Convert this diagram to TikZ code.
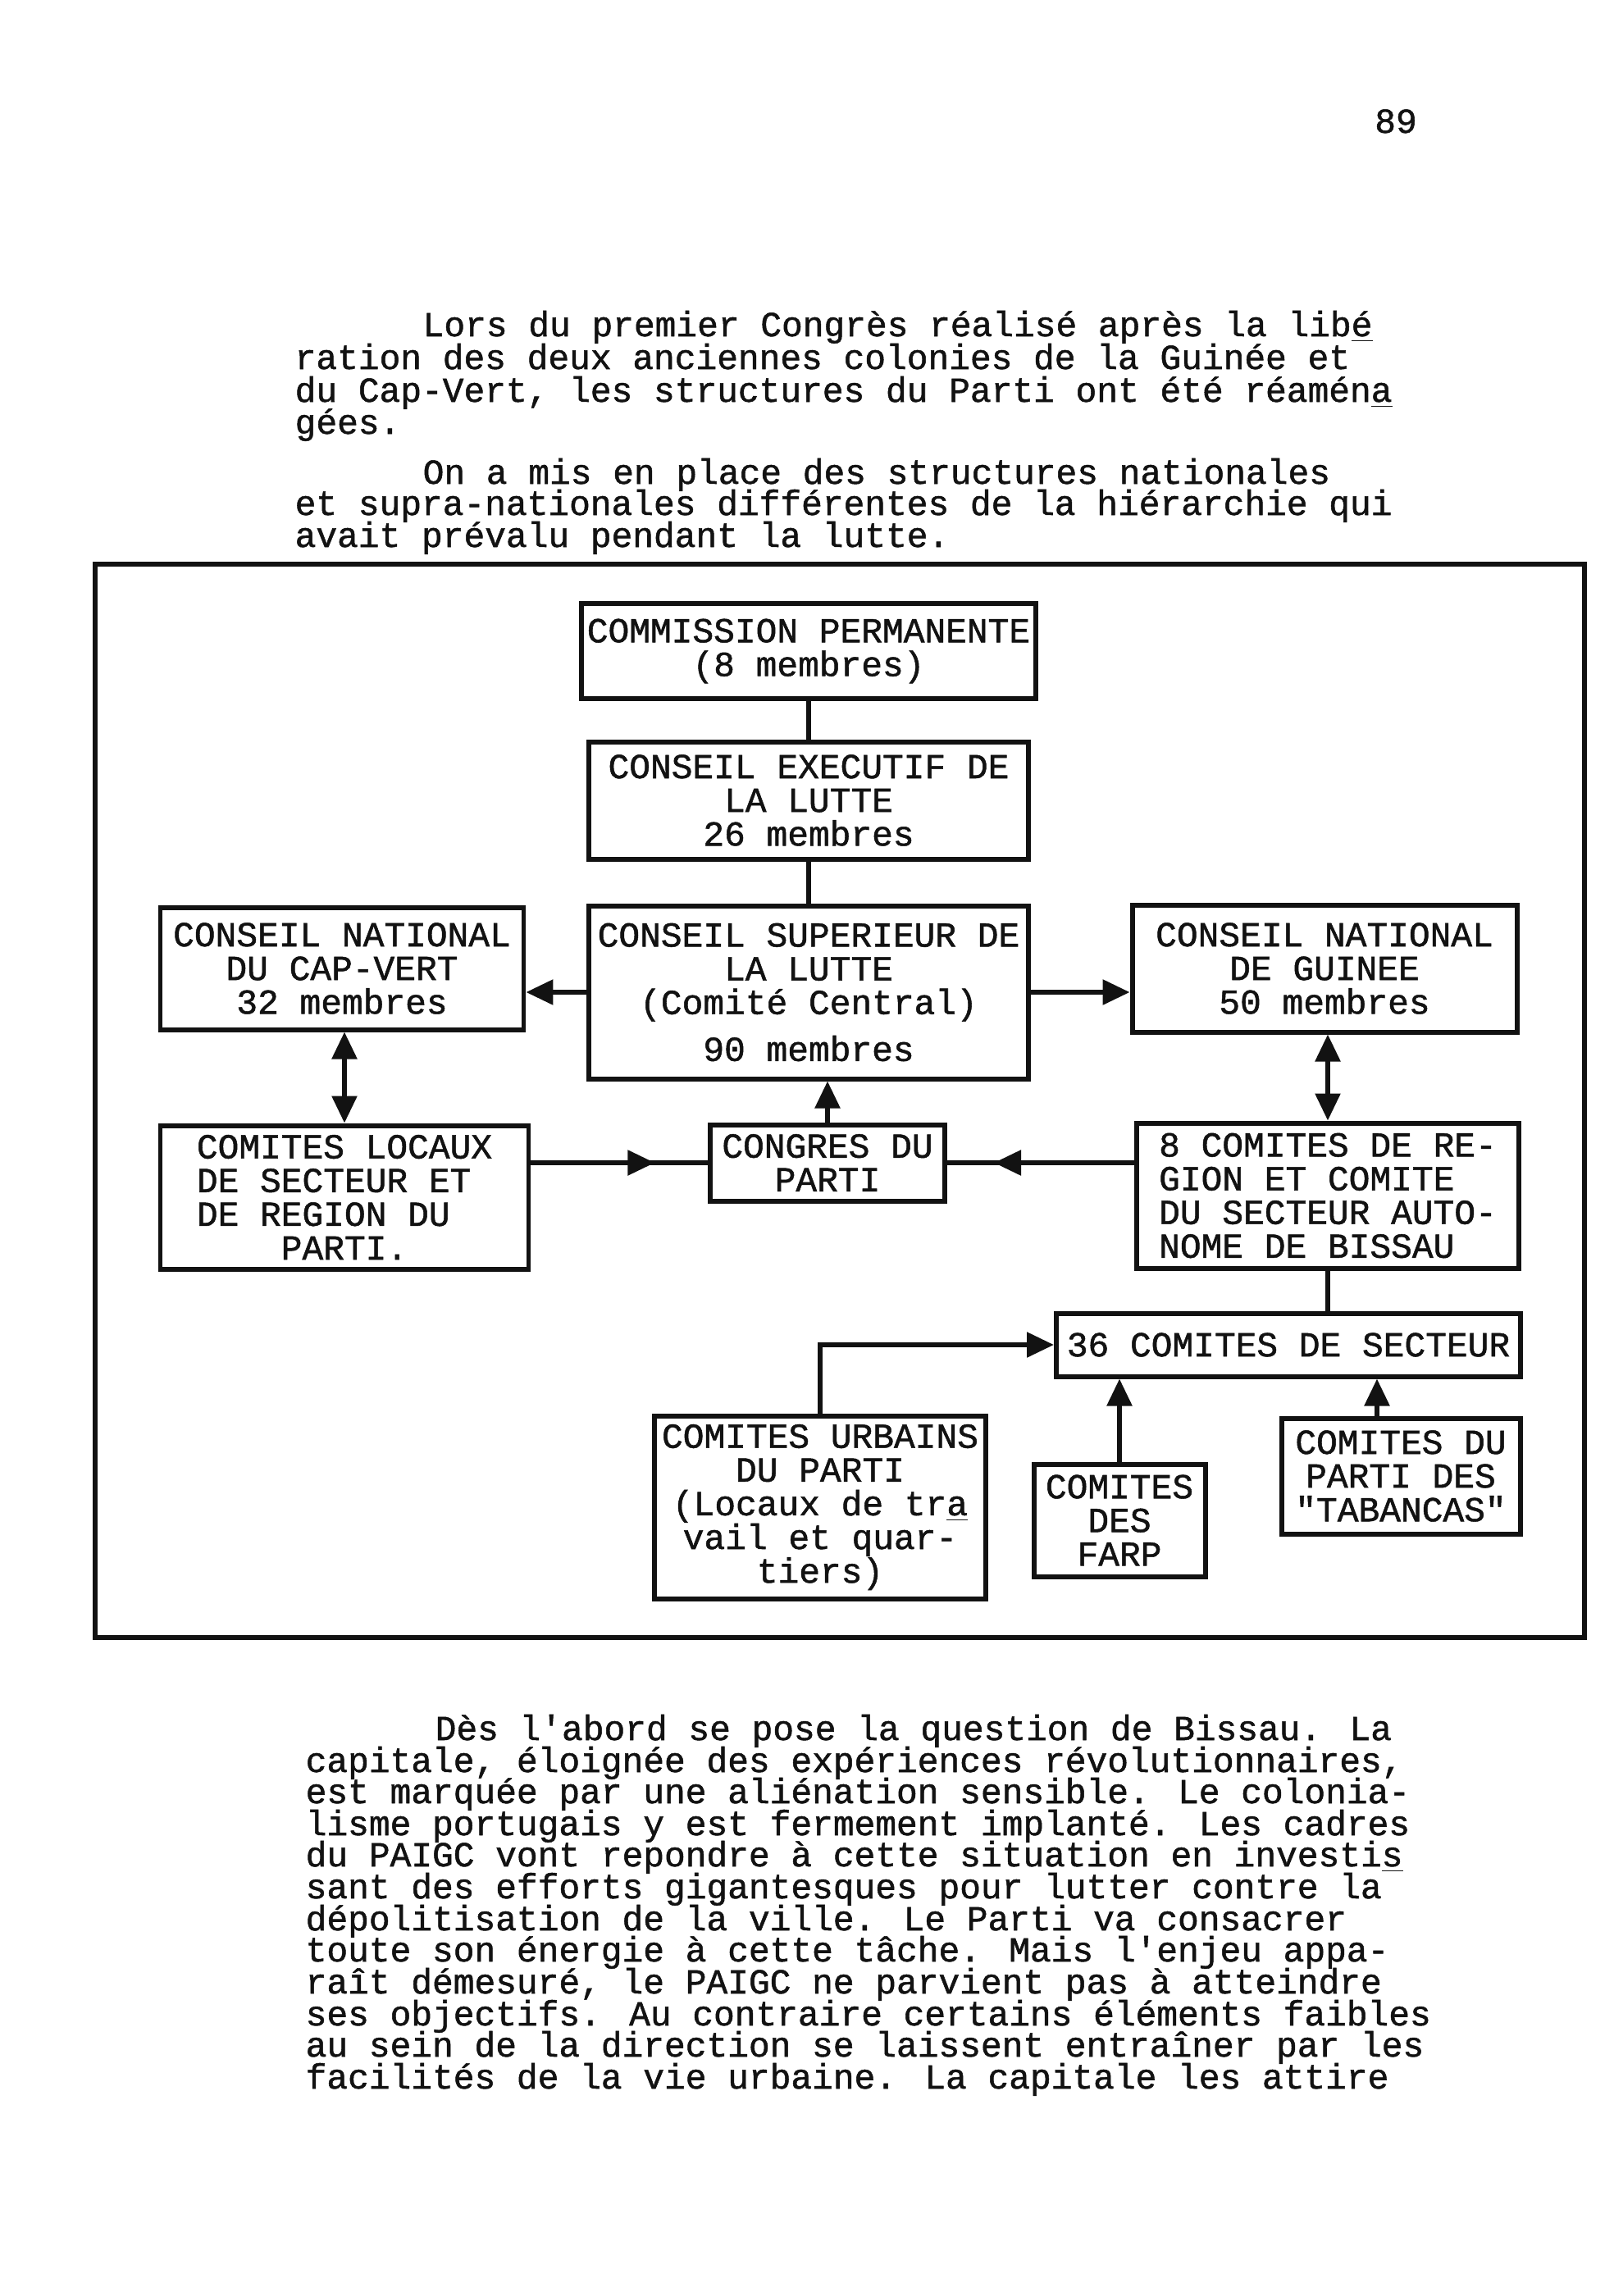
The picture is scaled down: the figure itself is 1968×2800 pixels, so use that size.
\documentclass[tikz,border=0pt]{standalone}
\usepackage{fontspec}
\usepackage{xcolor}
\usepackage{tikz}
\usetikzlibrary{arrows.meta, positioning, calc, decorations.markings}
\newfontfamily\typewriter[FakeBold=1.2]{Liberation Mono}
\newcommand{\typetext}{\typewriter\fontsize{12.2pt}{11.7pt}\selectfont}
\definecolor{inkblack}{RGB}{18,18,18}

\begin{document}
\begin{tikzpicture}[x=0.1mm, y=-0.1mm,
          box/.style={rectangle, draw=inkblack, line width=1.7pt, inner sep=2pt, align=center, font=\typetext, text=inkblack},
          lineleft/.style={anchor=base west, inner sep=0pt, font=\typetext, text=inkblack},
          frame/.style={draw=inkblack, line width=1.5pt},
          conn/.style={draw=inkblack, line width=1.6pt},
          arr/.style={conn, -{Triangle[length=3.3mm, width=3mm]}},
          dblarr/.style={conn, {Triangle[length=3.3mm, width=3mm]}-{Triangle[length=3.3mm, width=3mm]}},
          midarr/.style={conn, postaction={decorate}, decoration={markings, mark=at position #1 with {\arrow{Triangle[length=3.3mm, width=3mm]}}}}
        ]
          \useasboundingbox (0,0) rectangle (1968,2800);

          % Page number
          \node[lineleft, anchor=base] (pagenum) at (1702,162) {89};

          % Text above
          \node[lineleft] (ptop1) at (515,410) {Lors du premier Congrès réalisé après la lib\underline{é}};
          \node[lineleft] (ptop2) at (359,450) {ration des deux anciennes colonies de la Guinée et};
          \node[lineleft] (ptop3) at (359,490) {du Cap-Vert, les structures du Parti ont été réamén\underline{a}};
          \node[lineleft] (ptop4) at (359,529) {gées.};
          \node[lineleft] (pmid1) at (515,590) {On a mis en place des structures nationales};
          \node[lineleft] (pmid2) at (359,628) {et supra-nationales différentes de la hiérarchie qui};
          \node[lineleft] (pmid3) at (359,667) {avait prévalu pendant la lutte.};

          % Frame
          \draw[frame] (116,688) rectangle (1932,1997);

          % Boxes
          \node[box, minimum width=53.6mm, minimum height=11.6mm] (perm) at (986,794) {COMMISSION PERMANENTE\\(8 membres)};
          \node[box, minimum width=53.6mm, minimum height=14.3mm] (exec) at (986,976) {CONSEIL EXECUTIF DE\\LA LUTTE\\26 membres};
          \node[box, minimum width=53.6mm, minimum height=21.1mm] (sup) at (986,1210) {CONSEIL SUPERIEUR DE\\LA LUTTE\\(Comité Central)\\[1.6mm]90 membres};
          \node[box, minimum width=44.3mm, minimum height=14.9mm] (capvert) at (417,1181) {CONSEIL NATIONAL\\DU CAP-VERT\\32 membres};
          \node[box, minimum width=46.9mm, minimum height=15.5mm] (guinee) at (1615,1181) {CONSEIL NATIONAL\\DE GUINEE\\50 membres};
          \node[box, minimum width=44.9mm, minimum height=17.5mm, align=left] (locaux) at (420,1460) {COMITES LOCAUX\\DE SECTEUR ET\\DE REGION DU\\\hspace*{2.4em}PARTI.};
          \node[box, minimum width=28.6mm, minimum height=9.3mm] (congres) at (1009,1418) {CONGRES DU\\PARTI};
          \node[box, minimum width=46.6mm, minimum height=17.7mm, align=left] (region) at (1619,1458) {8 COMITES DE RE-\\GION ET COMITE\\DU SECTEUR AUTO-\\NOME DE BISSAU};
          \node[box, minimum width=56.6mm, minimum height=7.7mm] (secteur) at (1571,1640) {36 COMITES DE SECTEUR};
          \node[box, minimum width=40.4mm, minimum height=22.3mm] (urbains) at (1000,1838) {COMITES URBAINS\\DU PARTI\\(Locaux de tr\underline{a}\\vail et quar-\\tiers)};
          \node[box, minimum width=20.9mm, minimum height=13.7mm] (farp) at (1365,1854) {COMITES\\DES\\FARP};
          \node[box, minimum width=29.1mm, minimum height=14.1mm] (tabancas) at (1708,1800) {COMITES DU\\PARTI DES\\"TABANCAS"};

          % Connections
          \draw[conn] (perm) -- (exec);
          \draw[conn] (exec) -- (sup);
          \draw[arr] (sup.west) -- (sup.west -| capvert.east);
          \draw[arr] (sup.east) -- (sup.east -| guinee.west);
          \draw[dblarr] (locaux.north |- capvert.south) -- (locaux.north);
          \draw[dblarr] (region.north |- guinee.south) -- (region.north);
          \draw[arr] (congres.north) -- (congres.north |- sup.south);
          \draw[midarr=0.7] (congres.west -| locaux.east) -- (congres.west);
          \draw[midarr=0.75] (congres.east -| region.west) -- (congres.east);
          \draw[conn] (region.south) -- (region.south |- secteur.north);
          \draw[arr] (urbains.north) |- (secteur.west);
          \draw[arr] (farp.north) -- (farp.north |- secteur.south);
          \draw[arr] ([xshift=-2.9mm]tabancas.north) -- ([xshift=-2.9mm]tabancas.north |- secteur.south);

          % Text below
          \node[lineleft] (pbot1) at (530,2122) {Dès l'abord se pose la question de Bissau. La};
          \node[lineleft] (pbot2) at (372,2161) {capitale, éloignée des expériences révolutionnaires,};
          \node[lineleft] (pbot3) at (372,2199) {est marquée par une aliénation sensible. Le colonia-};
          \node[lineleft] (pbot4) at (372,2238) {lisme portugais y est fermement implanté. Les cadres};
          \node[lineleft] (pbot5) at (372,2276) {du PAIGC vont repondre à cette situation en investi\underline{s}};
          \node[lineleft] (pbot6) at (372,2315) {sant des efforts gigantesques pour lutter contre la};
          \node[lineleft] (pbot7) at (372,2354) {dépolitisation de la ville. Le Parti va consacrer};
          \node[lineleft] (pbot8) at (372,2392) {toute son énergie à cette tâche. Mais l'enjeu appa-};
          \node[lineleft] (pbot9) at (372,2431) {raît démesuré, le PAIGC ne parvient pas à atteindre};
          \node[lineleft] (pbot10) at (372,2470) {ses objectifs. Au contraire certains éléments faibles};
          \node[lineleft] (pbot11) at (372,2508) {au sein de la direction se laissent entraîner par les};
          \node[lineleft] (pbot12) at (372,2547) {facilités de la vie urbaine. La capitale les attire};
        \end{tikzpicture}
\end{document}
